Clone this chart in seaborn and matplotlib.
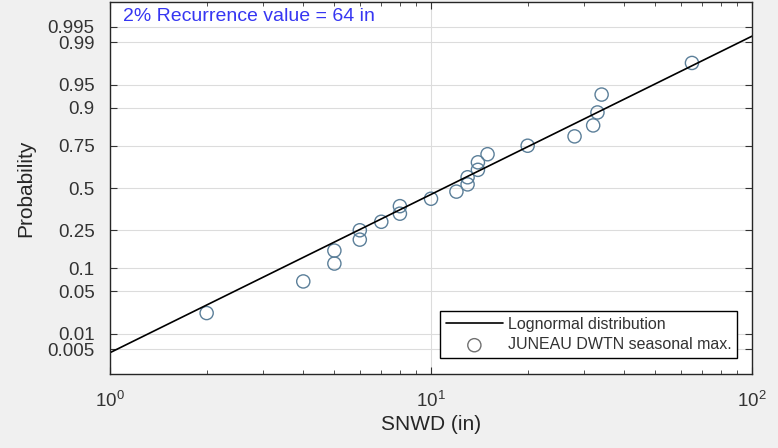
import matplotlib
matplotlib.use("Agg")
import matplotlib.pyplot as plt
import numpy as np
import seaborn as sns
from statistics import NormalDist
from matplotlib.ticker import NullLocator, LogLocator

# seasonal maxima (in) and their plotting probabilities
snwd = [2, 4, 5, 5, 6, 6, 7, 8, 8, 10, 12, 13, 13, 14, 14, 15, 20, 28, 32, 33, 34, 65]
prob = [0.023, 0.068, 0.114, 0.159, 0.205, 0.250, 0.295, 0.341, 0.386, 0.432, 0.477,
        0.523, 0.568, 0.614, 0.659, 0.705, 0.750, 0.795, 0.841, 0.886, 0.932, 0.977]

# fitted lognormal line end points
fit_x = [1, 100]
fit_p = [0.0043, 0.9923]

prob_ticks = [0.005, 0.01, 0.05, 0.1, 0.25, 0.5, 0.75, 0.9, 0.95, 0.99, 0.995]
prob_labels = ["0.005", "0.01", "0.05", "0.1", "0.25", "0.5", "0.75", "0.9", "0.95", "0.99", "0.995"]

_nd = NormalDist()


def probit(p):
    p = np.clip(np.asarray(p, dtype=float), 1e-12, 1 - 1e-12)
    return np.vectorize(_nd.inv_cdf, otypes=[float])(p)


def inv_probit(z):
    return np.vectorize(_nd.cdf, otypes=[float])(np.asarray(z, dtype=float))


sns.set_theme(style="ticks")
plt.rcParams["font.family"] = ["Liberation Sans", "DejaVu Sans"]
plt.rcParams["text.color"] = "#333333"

fig = plt.figure(figsize=(7.78, 4.48), dpi=100, facecolor="#f0f0f0")
ax = fig.add_axes([0.1414, 0.1652, 0.8252, 0.8303])
ax.set_facecolor("white")

ax.set_xscale("log")
ax.set_yscale("function", functions=(probit, inv_probit))

sns.lineplot(x=fit_x, y=fit_p, color="black", linewidth=1.2, ax=ax,
             label="Lognormal distribution")
sns.scatterplot(x=snwd, y=prob, marker="o", s=90, facecolor="none",
                edgecolor="#5b7f99", linewidth=1.0, ax=ax,
                label="JUNEAU DWTN seasonal max.")

ax.set_xlim(1, 100)
ax.set_ylim(0.0015, 0.9985)
ax.set_yticks(prob_ticks)
ax.set_yticklabels(prob_labels)
ax.yaxis.set_minor_locator(NullLocator())
ax.xaxis.set_major_locator(LogLocator(base=10))
ax.xaxis.set_minor_locator(LogLocator(base=10, subs=np.arange(2, 10)))

ax.grid(True, which="major", axis="both", color="#dcdcdc", linewidth=0.8)
ax.set_axisbelow(True)

ax.tick_params(which="both", direction="in", top=True, right=True,
               colors="#333333", labelsize=13.5)
ax.tick_params(which="major", length=5, width=0.8)
ax.tick_params(which="minor", length=3, width=0.6)
ax.tick_params(axis="x", pad=12)
ax.tick_params(axis="y", pad=11)
for s in ax.spines.values():
    s.set_color("#262626")
    s.set_linewidth(1.0)

ax.set_xlabel("SNWD (in)", fontsize=15, labelpad=3)
ax.set_ylabel("Probability", fontsize=15, labelpad=9)

ax.text(0.02, 0.985, "2% Recurrence value = 64 in", color="#3636f2",
        fontsize=14, ha="left", va="top", transform=ax.transAxes)

leg = ax.legend(loc="lower right", bbox_to_anchor=(0.977, 0.043), fontsize=11.5,
                frameon=True, fancybox=False, edgecolor="black", framealpha=1,
                handlelength=3.6, borderpad=0.35, labelspacing=0.35,
                handletextpad=0.3, borderaxespad=0)
leg.get_frame().set_linewidth(1.0)
for h in leg.legend_handles:
    if hasattr(h, "set_edgecolor") and not isinstance(h, matplotlib.lines.Line2D):
        h.set_edgecolor("#707070")
        h.set_facecolor("none")

fig.savefig("out.png", dpi=100, facecolor=fig.get_facecolor())
